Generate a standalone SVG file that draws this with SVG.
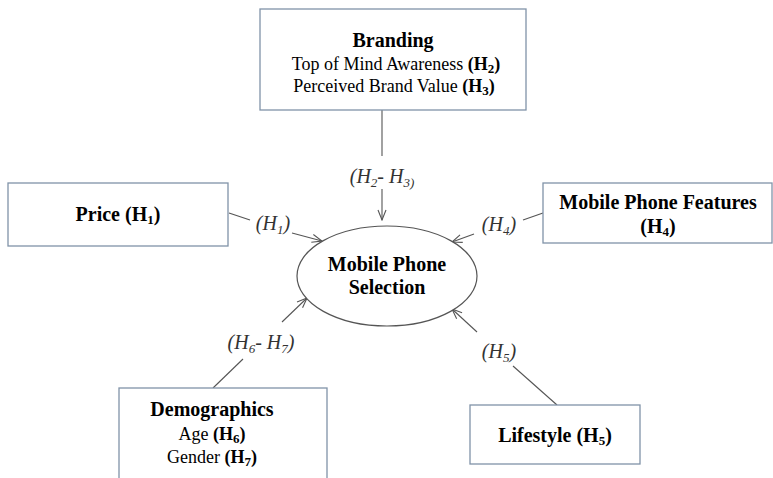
<svg xmlns="http://www.w3.org/2000/svg" width="773" height="478" viewBox="0 0 773 478">
<style>
.box{fill:#fff;stroke:#8093a8;stroke-width:1.3}
.ell{fill:#fff;stroke:#555;stroke-width:1.2}
.t{font-family:"Liberation Serif","Times New Roman",serif;fill:#000;text-anchor:middle}
.b{font-weight:bold;font-size:20px}
.r{font-size:18px}
.lab{font-family:"Liberation Serif","Times New Roman",serif;font-style:italic;font-size:20px;fill:#333;text-anchor:middle}
.ln{stroke:#555;stroke-width:1.1;fill:none}
.sub{font-size:13px}
</style>
<defs>
<marker id="arr" markerWidth="12" markerHeight="10" refX="11" refY="5" orient="auto" markerUnits="userSpaceOnUse">
<path d="M1,1 L11,5 L1,9" fill="none" stroke="#555" stroke-width="1.1"/>
</marker>
</defs>
<rect width="773" height="478" fill="#fff"/>
<g id="connectors">
<line class="ln" x1="382" y1="110" x2="382" y2="156"/>
<line class="ln" x1="382" y1="189" x2="382" y2="220" marker-end="url(#arr)"/>
<line class="ln" x1="229" y1="213" x2="250" y2="220"/>
<line class="ln" x1="292" y1="233" x2="322" y2="241" marker-end="url(#arr)"/>
<line class="ln" x1="543" y1="213" x2="523" y2="220"/>
<line class="ln" x1="474" y1="234" x2="452" y2="242" marker-end="url(#arr)"/>
<line class="ln" x1="213" y1="388" x2="243" y2="359"/>
<line class="ln" x1="282" y1="322" x2="307" y2="298" marker-end="url(#arr)"/>
<line class="ln" x1="557" y1="405" x2="513" y2="366"/>
<line class="ln" x1="477" y1="332" x2="452" y2="309" marker-end="url(#arr)"/>
<text class="lab" x="382" y="183">(H<tspan class="sub" dy="4">2</tspan><tspan dy="-4">- H</tspan><tspan class="sub" dy="4">3)</tspan></text>
<text class="lab" x="273" y="230">(H<tspan class="sub" dy="4">1</tspan><tspan dy="-4">)</tspan></text>
<text class="lab" x="499" y="231">(H<tspan class="sub" dy="4">4</tspan><tspan dy="-4">)</tspan></text>
<text class="lab" x="261" y="349">(H<tspan class="sub" dy="4">6</tspan><tspan dy="-4">- H</tspan><tspan class="sub" dy="4">7</tspan><tspan dy="-4">)</tspan></text>
<text class="lab" x="499" y="358">(H<tspan class="sub" dy="4">5</tspan><tspan dy="-4">)</tspan></text>
</g>
<g id="branding">
<rect class="box" x="260" y="9" width="266" height="101"/>
<text class="t b" x="393" y="47">Branding</text>
<text class="t r" x="396" y="70">Top of Mind Awareness <tspan font-weight="bold">(H<tspan class="sub" dy="3">2</tspan><tspan dy="-3">)</tspan></tspan></text>
<text class="t r" x="394" y="92">Perceived Brand Value <tspan font-weight="bold">(H<tspan class="sub" dy="3">3</tspan><tspan dy="-3">)</tspan></tspan></text>
</g>
<g id="price">
<rect class="box" x="8" y="183" width="220" height="63"/>
<text class="t b" x="118" y="221">Price (H<tspan class="sub" dy="3">1</tspan><tspan dy="-3">)</tspan></text>
</g>
<g id="features">
<rect class="box" x="543" y="183" width="229" height="60"/>
<text class="t b" x="658" y="209">Mobile Phone Features</text>
<text class="t b" x="658" y="233">(H<tspan class="sub" dy="3">4</tspan><tspan dy="-3">)</tspan></text>
</g>
<g id="selection">
<ellipse class="ell" cx="387" cy="276" rx="90" ry="50"/>
<text class="t b" x="387" y="271" font-size="17">Mobile Phone</text>
<text class="t b" x="387" y="294" font-size="17">Selection</text>
</g>
<g id="demographics">
<rect class="box" x="119" y="388" width="208" height="100"/>
<text class="t b" x="212" y="416">Demographics</text>
<text class="t r" x="212" y="440">Age <tspan font-weight="bold">(H<tspan class="sub" dy="3">6</tspan><tspan dy="-3">)</tspan></tspan></text>
<text class="t r" x="212" y="463">Gender <tspan font-weight="bold">(H<tspan class="sub" dy="3">7</tspan><tspan dy="-3">)</tspan></tspan></text>
</g>
<g id="lifestyle">
<rect class="box" x="470" y="405" width="170" height="59"/>
<text class="t b" x="555" y="442">Lifestyle (H<tspan class="sub" dy="3">5</tspan><tspan dy="-3">)</tspan></text>
</g>
</svg>
